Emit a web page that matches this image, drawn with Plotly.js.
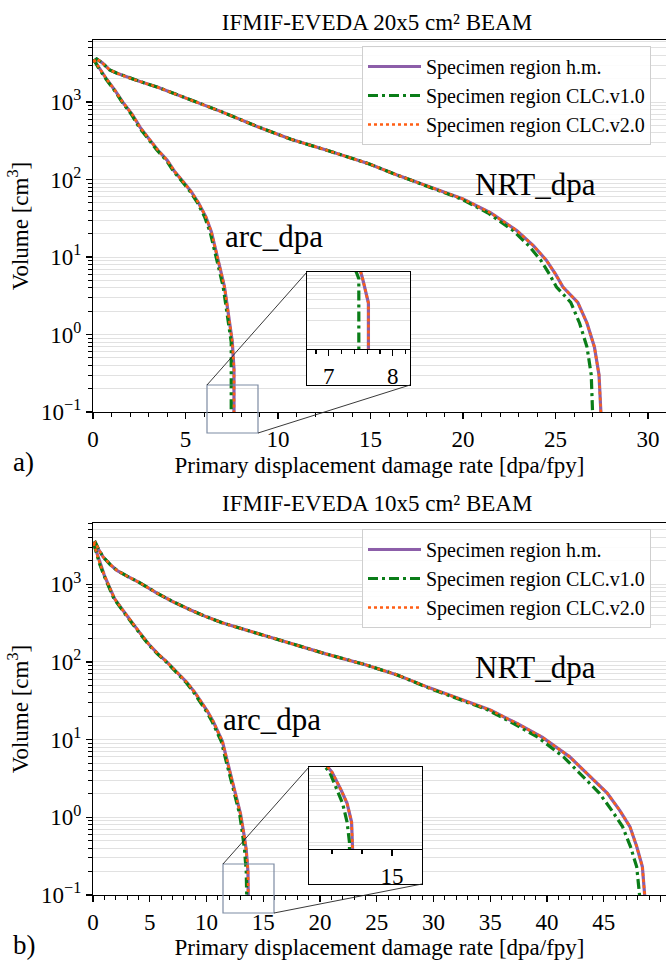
<!DOCTYPE html>
<html><head><meta charset="utf-8">
<script src="https://cdn.plot.ly/plotly-3.0.1.min.js"></script>
<style>html,body{margin:0;padding:0;background:#fff;overflow:hidden;font-family:'Liberation Serif',serif}</style>
</head><body><div id="chart" style="width:666px;height:960px"></div>
<script>
// ---------- DATA ----------
// Panel a) IFMIF-EVEDA 20x5 cm2 beam
const a_arc_vol   = [3500, 2800, 1950, 1400, 1000, 700, 470, 340, 240, 178, 128, 92, 70, 50, 33, 21, 13, 8.5, 6, 4.2, 2.9, 2.0, 1.4, 1.0, 0.8, 0.6, 0.36, 0.05];
const a_arc_hm    = [0.05, 0.3, 0.75, 1.2, 1.6, 2.1, 2.55, 3.0, 3.5, 4.0, 4.4, 4.9, 5.3, 5.7, 6.1, 6.4, 6.6, 6.8, 6.95, 7.1, 7.2, 7.3, 7.4, 7.5, 7.53, 7.56, 7.62, 7.62];
const a_arc_v1    = [0.05, 0.28, 0.72, 1.17, 1.57, 2.06, 2.5, 2.95, 3.45, 3.95, 4.35, 4.85, 5.25, 5.65, 6.03, 6.33, 6.53, 6.73, 6.88, 7.03, 7.13, 7.23, 7.33, 7.43, 7.47, 7.47, 7.47, 7.47];
const a_arc_v2    = [0.05, 0.3, 0.75, 1.2, 1.6, 2.1, 2.55, 3.0, 3.5, 4.0, 4.4, 4.9, 5.3, 5.7, 6.1, 6.4, 6.6, 6.8, 6.95, 7.1, 7.2, 7.3, 7.4, 7.5, 7.53, 7.56, 7.62, 7.62];
const a_nrt_vol   = [3300, 3600, 3200, 2600, 2350, 2200, 1850, 1550, 1080, 740, 480, 330, 240, 160, 115, 80, 56, 37, 22, 14, 9.1, 6.0, 4.1, 2.6, 1.4, 0.69, 0.3, 0.1, 0.05];
const a_nrt_hm    = [0.0, 0.2, 0.5, 0.9, 1.3, 1.6, 2.5, 3.5, 5.2, 7.0, 8.9, 10.7, 12.6, 14.9, 16.4, 18.2, 20.0, 21.5, 22.9, 23.8, 24.5, 25.0, 25.4, 26.2, 26.7, 27.1, 27.35, 27.45, 27.45];
const a_nrt_v1    = [0.0, 0.2, 0.5, 0.9, 1.3, 1.6, 2.5, 3.5, 5.2, 7.0, 8.9, 10.7, 12.6, 14.9, 16.4, 18.15, 19.9, 21.35, 22.7, 23.55, 24.2, 24.67, 25.05, 25.82, 26.3, 26.7, 26.93, 27.0, 27.0];
const a_nrt_v2    = [0.0, 0.2, 0.5, 0.9, 1.3, 1.6, 2.5, 3.5, 5.2, 7.0, 8.9, 10.7, 12.6, 14.9, 16.4, 18.2, 20.0, 21.5, 22.9, 23.8, 24.5, 25.0, 25.4, 26.2, 26.7, 27.1, 27.35, 27.45, 27.45];

// Panel b) IFMIF-EVEDA 10x5 cm2 beam
const b_arc_vol   = [3400, 2600, 1850, 1300, 950, 650, 470, 340, 240, 170, 128, 100, 78, 54, 40, 30, 23, 17, 13, 9.5, 5.5, 2.9, 1.6, 1.1, 0.6, 0.38, 0.2, 0.1, 0.05];
const b_arc_hm    = [0.05, 0.3, 0.6, 1.0, 1.4, 1.9, 2.6, 3.3, 4.1, 4.9, 5.7, 6.5, 7.2, 8.3, 9.0, 9.6, 10.1, 10.6, 11.0, 11.4, 11.8, 12.3, 12.7, 13.0, 13.3, 13.5, 13.65, 13.7, 13.7];
const b_arc_v1    = [0.05, 0.28, 0.57, 0.96, 1.35, 1.85, 2.55, 3.25, 4.05, 4.85, 5.65, 6.45, 7.15, 8.22, 8.9, 9.5, 10.0, 10.5, 10.9, 11.3, 11.7, 12.2, 12.62, 12.92, 13.18, 13.35, 13.5, 13.58, 13.58];
const b_arc_v2    = [0.05, 0.3, 0.6, 1.0, 1.4, 1.9, 2.6, 3.3, 4.1, 4.9, 5.7, 6.5, 7.2, 8.3, 9.0, 9.6, 10.1, 10.6, 11.0, 11.4, 11.8, 12.3, 12.7, 13.0, 13.3, 13.5, 13.65, 13.7, 13.7];
const b_nrt_vol   = [3300, 3450, 2800, 2240, 1800, 1510, 1270, 1050, 775, 600, 470, 380, 316, 270, 235, 174, 127, 92, 68, 46, 32, 24, 16, 10.7, 6.0, 3.3, 2.05, 1.23, 0.76, 0.42, 0.23, 0.1, 0.05];
const b_nrt_hm    = [0.0, 0.2, 0.5, 0.9, 1.5, 2.1, 3.0, 4.1, 5.6, 7.0, 8.55, 10.0, 11.45, 13.0, 14.45, 17.4, 20.5, 24.0, 26.8, 29.7, 32.6, 35.0, 37.4, 39.6, 42.0, 43.8, 45.3, 46.4, 47.3, 47.9, 48.4, 48.6, 48.6];
const b_nrt_v1    = [0.0, 0.2, 0.5, 0.9, 1.5, 2.1, 3.0, 4.1, 5.6, 7.0, 8.55, 10.0, 11.45, 13.0, 14.45, 17.4, 20.5, 24.0, 26.8, 29.6, 32.5, 34.8, 37.1, 39.2, 41.45, 43.15, 44.6, 45.7, 46.65, 47.35, 47.9, 48.15, 48.15];
const b_nrt_v2    = [0.0, 0.2, 0.5, 0.9, 1.5, 2.1, 3.0, 4.1, 5.6, 7.0, 8.55, 10.0, 11.45, 13.0, 14.45, 17.4, 20.5, 24.0, 26.8, 29.7, 32.6, 35.0, 37.4, 39.6, 42.0, 43.8, 45.3, 46.4, 47.3, 47.9, 48.4, 48.6, 48.6];

const seriesNames = ['Specimen region h.m.', 'Specimen region CLC.v1.0', 'Specimen region CLC.v2.0'];
const panelTitles = ['IFMIF-EVEDA 20x5 cm² BEAM', 'IFMIF-EVEDA 10x5 cm² BEAM'];
const curveLabels = ['arc_dpa', 'NRT_dpa'];
const panelLetters = ['a)', 'b)'];
const yTickVals = [0.1, 1, 10, 100, 1000];
const yTickText = ['10<sup>−1</sup>', '10<sup>0</sup>', '10<sup>1</sup>', '10<sup>2</sup>', '10<sup>3</sup>'];
const insetATicks = [7, 8];
const insetBTicks = [15];
const insetBMinor = [13, 14];
const xTitle = 'Primary displacement damage rate [dpa/fpy]';
const yTitle = 'Volume [cm<sup>3</sup>]';

// ---------- STYLE ----------
const W = 666, H = 960;
const FONT = 'Liberation Serif';
const styles = [
  {color: '#8c5ea9', width: 3.2, dash: 'solid'},
  {color: '#0a7d18', width: 3.2, dash: '10px,4px,3px,4px'},
  {color: '#ff5e14', width: 2.6, dash: '3px,3px'}
];
const GRID = '#dadada';
const px = v => v / W, py = v => 1 - v / H;
const f = (size) => ({size: size, family: FONT, color: '#000'});

const minorLog = [];
for (let e = -2; e <= 4; e++) for (let m = 2; m <= 9; m++) minorLog.push(m * Math.pow(10, e));

const panels = [
  {arcVol: a_arc_vol, arc: [a_arc_hm, a_arc_v1, a_arc_v2], nrtVol: a_nrt_vol, nrt: [a_nrt_hm, a_nrt_v1, a_nrt_v2],
   xa: 'x', ya: 'y', ixa: 'x5', iya: 'y5', legend: 'legend'},
  {arcVol: b_arc_vol, arc: [b_arc_hm, b_arc_v1, b_arc_v2], nrtVol: b_nrt_vol, nrt: [b_nrt_hm, b_nrt_v1, b_nrt_v2],
   xa: 'x2', ya: 'y2', ixa: 'x6', iya: 'y6', legend: 'legend2'}
];

const data = [];
panels.forEach((p, pi) => {
  for (let s = 0; s < 3; s++) {
    const line = {color: styles[s].color, width: styles[s].width, dash: styles[s].dash};
    data.push({type: 'scatter', mode: 'lines', x: p.arc[s], y: p.arcVol, xaxis: p.xa, yaxis: p.ya,
      name: seriesNames[s], legend: p.legend, legendgroup: 'g' + pi + s, showlegend: true, line, hoverinfo: 'x+y'});
    data.push({type: 'scatter', mode: 'lines', x: p.nrt[s], y: p.nrtVol, xaxis: p.xa, yaxis: p.ya,
      name: seriesNames[s], legend: p.legend, legendgroup: 'g' + pi + s, showlegend: false, line, hoverinfo: 'x+y'});
  }
});
// white backing panels for the insets (empty subplots)
data.push({type: 'scatter', x: [], y: [], xaxis: 'x3', yaxis: 'y3', showlegend: false, hoverinfo: 'skip'});
data.push({type: 'scatter', x: [], y: [], xaxis: 'x4', yaxis: 'y4', showlegend: false, hoverinfo: 'skip'});
// inset traces (zoom of arc_dpa tail)
panels.forEach((p, pi) => {
  for (let s = 0; s < 3; s++) {
    data.push({type: 'scatter', mode: 'lines', x: p.arc[s], y: p.arcVol, xaxis: p.ixa, yaxis: p.iya,
      showlegend: false, line: {color: styles[s].color, width: styles[s].width, dash: styles[s].dash}, hoverinfo: 'x+y'});
  }
});

const mainX = (dom, range) => ({
  domain: dom, range: range, showline: true, linecolor: '#000', linewidth: 1.2, mirror: true,
  ticks: 'outside', ticklen: 6, tickwidth: 1.2, tickcolor: '#000', dtick: 5, tick0: 0,
  minor: {ticks: 'outside', ticklen: 3.5, tickwidth: 1, tickcolor: '#000', dtick: 1},
  showgrid: false, zeroline: false, tickfont: f(23),
  title: {text: xTitle, font: f(23), standoff: 6}
});
const mainY = (dom, range, anchor) => ({
  domain: dom, type: 'log', range: range, anchor: anchor, showline: true, linecolor: '#000', linewidth: 1.2,
  ticks: 'outside', ticklen: 6, tickwidth: 1.2, tickcolor: '#000', tickmode: 'array', tickvals: yTickVals, ticktext: yTickText,
  minor: {tickmode: 'array', tickvals: minorLog, ticks: 'outside', ticklen: 3.5, tickwidth: 1, tickcolor: '#000', showgrid: true, gridcolor: GRID, gridwidth: 0.8},
  showgrid: true, gridcolor: GRID, gridwidth: 0.8, zeroline: false,
  tickfont: f(23),
  title: {text: yTitle, font: f(23), standoff: 6}
});
const panelAx = (xd, yd, anchor) => ({
  x: {domain: xd, range: [0, 1], anchor: anchor.y, showline: true, mirror: true, linecolor: '#000', linewidth: 1.2,
      showticklabels: false, ticks: '', showgrid: false, zeroline: false, fixedrange: true},
  y: {domain: yd, range: [0, 1], anchor: anchor.x, showline: true, mirror: true, linecolor: '#000', linewidth: 1.2,
      showticklabels: false, ticks: '', showgrid: false, zeroline: false, fixedrange: true}
});

const layout = {
  width: W, height: H, margin: {l: 0, r: 0, t: 0, b: 0},
  paper_bgcolor: '#fff', plot_bgcolor: '#fff',
  font: f(20),
  title: {text: panelTitles[0], x: 377 / W, xanchor: 'center', y: py(22), yanchor: 'middle', font: f(23)},
  xaxis: Object.assign(mainX([93 / W, 1], [0, 30.97]), {anchor: 'y'}),
  yaxis: mainY([py(412), py(40)], [-1, 3.8], 'x'),
  xaxis2: Object.assign(mainX([93 / W, 1], [0, 50.48]), {anchor: 'y2'}),
  yaxis2: mainY([py(895), py(523)], [-1, 3.788], 'x2'),
  xaxis5: {domain: [px(307), px(410)], range: [6.66, 8.27], anchor: 'y5', showline: true, mirror: true, linecolor: '#000', linewidth: 1.2,
    ticks: 'outside', ticklen: 6, tickwidth: 1.2, tickcolor: '#000', tickmode: 'array', tickvals: insetATicks,
    minor: {ticks: 'outside', ticklen: 3.5, tickcolor: '#000', dtick: 0.2, tick0: 0},
    showgrid: false, zeroline: false, tickfont: f(23)},
  yaxis5: {domain: [py(349), py(272)], type: 'log', range: [-1.1, 0.0], anchor: 'x5', showline: true, mirror: true, linecolor: '#000', linewidth: 1.2,
    ticks: '', showticklabels: false, showgrid: true, gridcolor: GRID, gridwidth: 0.8, tickmode: 'array', tickvals: yTickVals,
    minor: {tickmode: 'array', tickvals: minorLog, showgrid: true, gridcolor: GRID, gridwidth: 0.8}, zeroline: false},
  xaxis6: {domain: [px(309), px(422)], range: [12.23, 16.0], anchor: 'y6', showline: true, mirror: true, linecolor: '#000', linewidth: 1.2,
    ticks: 'outside', ticklen: 6, tickwidth: 1.2, tickcolor: '#000', tickmode: 'array', tickvals: insetBTicks,
    minor: {tickmode: 'array', tickvals: insetBMinor, ticks: 'outside', ticklen: 4, tickcolor: '#000'},
    showgrid: false, zeroline: false, tickfont: f(23)},
  yaxis6: {domain: [py(849), py(767)], type: 'log', range: [-1.1, 0.12], anchor: 'x6', showline: true, mirror: true, linecolor: '#000', linewidth: 1.2,
    ticks: '', showticklabels: false, showgrid: true, gridcolor: GRID, gridwidth: 0.8, tickmode: 'array', tickvals: yTickVals,
    minor: {tickmode: 'array', tickvals: minorLog, showgrid: true, gridcolor: GRID, gridwidth: 0.8}, zeroline: false},
  legend: {x: px(362), y: py(46), xanchor: 'left', yanchor: 'top', bgcolor: 'rgba(255,255,255,0.9)', bordercolor: '#cfcfcf', borderwidth: 1,
    font: f(20), itemwidth: 53, tracegroupgap: 0, traceorder: 'normal'},
  legend2: {x: px(362), y: py(529), xanchor: 'left', yanchor: 'top', bgcolor: 'rgba(255,255,255,0.9)', bordercolor: '#cfcfcf', borderwidth: 1,
    font: f(20), itemwidth: 53, tracegroupgap: 0, traceorder: 'normal'},
  annotations: [
    {text: panelTitles[1], xref: 'paper', yref: 'paper', x: 377 / W, y: py(503), xanchor: 'center', yanchor: 'middle', showarrow: false, font: f(23)},
    {text: curveLabels[0], xref: 'x', yref: 'y', x: 9.8, y: 1.26, showarrow: false, font: f(31)},
    {text: curveLabels[1], xref: 'x', yref: 'y', x: 23.9, y: 1.93, showarrow: false, font: f(31)},
    {text: curveLabels[0], xref: 'x2', yref: 'y2', x: 15.8, y: 1.265, showarrow: false, font: f(31)},
    {text: curveLabels[1], xref: 'x2', yref: 'y2', x: 39.0, y: 1.93, showarrow: false, font: f(31)},
    {text: panelLetters[0], xref: 'paper', yref: 'paper', x: px(11), y: py(462), xanchor: 'left', yanchor: 'middle', showarrow: false, font: f(27)},
    {text: panelLetters[1], xref: 'paper', yref: 'paper', x: px(11), y: py(945), xanchor: 'left', yanchor: 'middle', showarrow: false, font: f(27)}
  ],
  shapes: [
    {type: 'rect', xref: 'paper', yref: 'paper', x0: px(207), x1: px(258), y0: py(433), y1: py(385), line: {color: '#7d8ba3', width: 1.2}, layer: 'above'},
    {type: 'rect', xref: 'paper', yref: 'paper', x0: px(223), x1: px(274), y0: py(913), y1: py(864), line: {color: '#7d8ba3', width: 1.2}, layer: 'above'},
    {type: 'line', xref: 'paper', yref: 'paper', x0: px(207), y0: py(385), x1: px(307), y1: py(272), line: {color: '#222', width: 0.9}, layer: 'above'},
    {type: 'line', xref: 'paper', yref: 'paper', x0: px(258), y0: py(433), x1: px(410), y1: py(385), line: {color: '#222', width: 0.9}, layer: 'above'},
    {type: 'line', xref: 'paper', yref: 'paper', x0: px(223), y0: py(864), x1: px(309), y1: py(767), line: {color: '#222', width: 0.9}, layer: 'above'},
    {type: 'line', xref: 'paper', yref: 'paper', x0: px(274), y0: py(913), x1: px(422), y1: py(884), line: {color: '#222', width: 0.9}, layer: 'above'}
  ]
};
const pa = panelAx([px(307), px(410)], [py(385), py(272)], {x: 'x3', y: 'y3'});
layout.xaxis3 = pa.x; layout.yaxis3 = pa.y;
const pb = panelAx([px(309), px(422)], [py(884), py(767)], {x: 'x4', y: 'y4'});
layout.xaxis4 = pb.x; layout.yaxis4 = pb.y;

Plotly.newPlot('chart', data, layout, {staticPlot: true, displayModeBar: false});
</script></body></html>
